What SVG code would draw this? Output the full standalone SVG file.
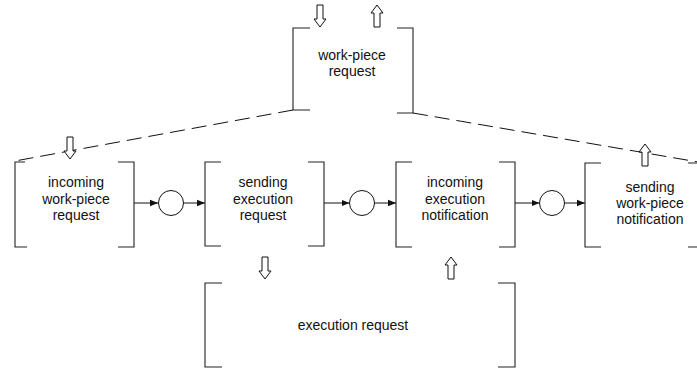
<svg xmlns="http://www.w3.org/2000/svg" width="697" height="370" viewBox="0 0 697 370">
<style>
.br{fill:none;stroke:#222;stroke-width:1.1}
.t{font-family:"Liberation Sans",Arial,sans-serif;font-size:14px;fill:#111;text-anchor:middle}
.c{fill:#fff;stroke:#111;stroke-width:1}
.ln{stroke:#111;stroke-width:1;fill:none}
.ds{stroke:#111;stroke-width:1;fill:none;stroke-dasharray:15 7}
.ba{fill:#fff;stroke:#111;stroke-width:1}
</style>
<defs>
<marker id="ah" viewBox="0 0 8 8" refX="8" refY="4" markerWidth="8" markerHeight="8" markerUnits="userSpaceOnUse" orient="auto">
<path d="M0,0.8 L8,4 L0,7.2 Z" fill="#111"/>
</marker>
<path id="down" d="M-3,0 H3 V14 H6 L0,22 L-6,14 H-3 Z"/>
<path id="up" d="M-3,22 H3 V8 H6 L0,0 L-6,8 H-3 Z"/>
</defs>
<g id="connectors">
<path class="ds" d="M293,110 L15,161"/>
<path class="ds" d="M413,113 L704,163"/>
<path class="ln" d="M134,203 H158" marker-end="url(#ah)"/>
<path class="ln" d="M183.5,203 H205" marker-end="url(#ah)"/>
<path class="ln" d="M324,203 H349.5" marker-end="url(#ah)"/>
<path class="ln" d="M374.5,203 H396" marker-end="url(#ah)"/>
<path class="ln" d="M515,203 H539.5" marker-end="url(#ah)"/>
<path class="ln" d="M564.5,203 H585" marker-end="url(#ah)"/>
<use href="#down" class="ba" transform="translate(320,5)"/>
<use href="#up" class="ba" transform="translate(377,5)"/>
<use href="#down" class="ba" transform="translate(70,137)"/>
<use href="#up" class="ba" transform="translate(645,144)"/>
<use href="#down" class="ba" transform="translate(265,257)"/>
<use href="#up" class="ba" transform="translate(451,257)"/>
</g>
<g id="wp-request">
<path class="br" d="M310,28 H293 V110 H310"/>
<path class="br" d="M397,28 H413 V113 H397"/>
<text class="t" x="352" y="60">work-piece</text>
<text class="t" x="352" y="76">request</text>
</g>
<g id="incoming-wp-request">
<path class="br" d="M25,162 H15 V247 H27"/>
<path class="br" d="M118,162 H134 V247 H118"/>
<text class="t" x="76" y="187">incoming</text>
<text class="t" x="76" y="203.5">work-piece</text>
<text class="t" x="76" y="220">request</text>
</g>
<g id="p1"><circle class="c" cx="171" cy="203" r="12.5"/></g>
<g id="sending-exec-request">
<path class="br" d="M221,162 H205 V246 H221"/>
<path class="br" d="M308,162 H324 V246 H308"/>
<text class="t" x="263" y="187">sending</text>
<text class="t" x="263" y="203.5">execution</text>
<text class="t" x="263" y="220">request</text>
</g>
<g id="p2"><circle class="c" cx="362" cy="203" r="12.5"/></g>
<g id="incoming-exec-notification">
<path class="br" d="M412,162 H396 V247 H412"/>
<path class="br" d="M499,162 H515 V247 H499"/>
<text class="t" x="455" y="187">incoming</text>
<text class="t" x="455" y="203.5">execution</text>
<text class="t" x="455" y="220">notification</text>
</g>
<g id="p3"><circle class="c" cx="552" cy="203" r="12.5"/></g>
<g id="sending-wp-notification">
<path class="br" d="M601,163 H585 V247 H601"/>
<path class="br" d="M688,163 H704 V247 H688"/>
<text class="t" x="650" y="192">sending</text>
<text class="t" x="650" y="208">work-piece</text>
<text class="t" x="650" y="224">notification</text>
</g>
<g id="execution-request">
<path class="br" d="M222,283 H205 V367 H222"/>
<path class="br" d="M498,283 H515 V367 H498"/>
<text class="t" x="353" y="330">execution request</text>
</g>
</svg>
